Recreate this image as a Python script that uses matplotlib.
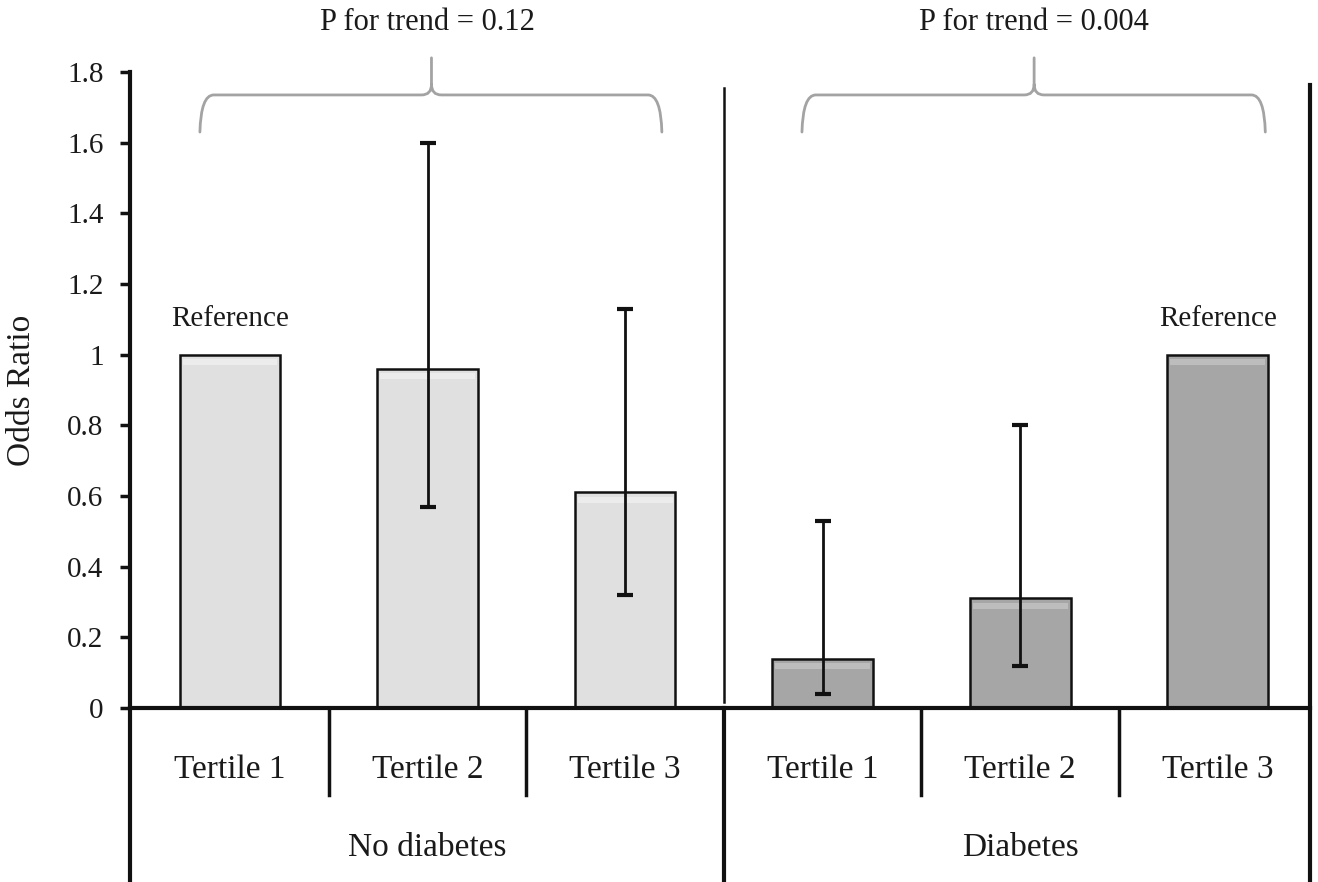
import matplotlib
matplotlib.use("Agg")
import matplotlib.pyplot as plt
import numpy as np
from matplotlib.path import Path
from matplotlib.patches import PathPatch

plt.rcParams["font.family"] = ["Liberation Serif", "DejaVu Serif"]

tertiles = ["Tertile 1", "Tertile 2", "Tertile 3", "Tertile 1", "Tertile 2", "Tertile 3"]
groups = ["No diabetes", "Diabetes"]
odds_ratio = [1.0, 0.96, 0.61, 0.14, 0.31, 1.0]
ci_low = [np.nan, 0.57, 0.32, 0.04, 0.12, np.nan]
ci_high = [np.nan, 1.60, 1.13, 0.53, 0.80, np.nan]
p_trend = ["P for trend = 0.12", "P for trend = 0.004"]
reference_idx = [0, 5]
yticks = [0, 0.2, 0.4, 0.6, 0.8, 1.0, 1.2, 1.4, 1.6, 1.8]
ytick_labels = ["0", "0.2", "0.4", "0.6", "0.8", "1", "1.2", "1.4", "1.6", "1.8"]

LIGHT = "#e0e0e0"
DARK = "#a6a6a6"
BRACE = "#a3a3a3"
TXT = "#1a1a1a"


def draw_brace(ax, x0, x1, xm, y_end, y_bar, y_tip, color):
    r = 0.07
    r2 = 0.05
    dy = 0.03
    verts = [
        (x0, y_end), (x0 + 0.005, y_bar), (x0 + r, y_bar),
        (xm - r2, y_bar), (xm, y_bar), (xm, y_bar + dy),
        (xm, y_tip),
        (xm, y_bar + dy), (xm, y_bar), (xm + r2, y_bar),
        (x1 - r, y_bar), (x1 - 0.005, y_bar), (x1, y_end),
    ]
    codes = [
        Path.MOVETO, Path.CURVE3, Path.CURVE3,
        Path.LINETO, Path.CURVE3, Path.CURVE3,
        Path.LINETO,
        Path.MOVETO, Path.CURVE3, Path.CURVE3,
        Path.LINETO, Path.CURVE3, Path.CURVE3,
    ]
    patch = PathPatch(Path(verts, codes), facecolor="none", edgecolor=color,
                      lw=2.0, clip_on=False, capstyle="round")
    ax.add_patch(patch)


fig = plt.figure(figsize=(13.18, 8.82), dpi=100)
ax = fig.add_axes([0.0986, 0.1973, 0.8953, 0.7211])

x = np.arange(len(odds_ratio))
ors = np.array(odds_ratio)
colors = [LIGHT] * 3 + [DARK] * 3
bar_w = 0.51

ax.bar(x, ors, width=bar_w, color=colors, edgecolor="#111111", linewidth=1.8, zorder=2)
# lighter band just under the top edge of each bar
highlight = ["#ececec"] * 3 + ["#bdbdbd"] * 3
ax.bar(x, np.full(len(ors), 0.018), bottom=ors - 0.03, width=bar_w - 0.03,
       color=highlight, linewidth=0, zorder=3)

lo = np.array(ci_low)
hi = np.array(ci_high)
has_ci = ~np.isnan(lo)
ax.errorbar(x[has_ci], ors[has_ci],
            yerr=[ors[has_ci] - lo[has_ci], hi[has_ci] - ors[has_ci]],
            fmt="none", ecolor="#111111", elinewidth=2.0, capsize=6, capthick=3, zorder=4)

for i in reference_idx:
    ax.text(x[i], 1.065, "Reference", ha="center", va="bottom", fontsize=21, color=TXT)

x_left, x_right = -0.506, 5.466
ax.set_xlim(x_left, x_right)
ax.set_ylim(0, 1.8)

ax.set_yticks(yticks)
ax.set_yticklabels(ytick_labels, fontsize=21, color=TXT)
ax.tick_params(axis="y", direction="out", length=7, width=2.5, pad=12, color="#111111")
ax.set_xticks([])
ax.set_ylabel("Odds Ratio", fontsize=24, color=TXT)
ax.yaxis.set_label_coords(-0.079, 0.5)

for s in ["top", "right", "left"]:
    ax.spines[s].set_visible(False)
ax.spines["bottom"].set_linewidth(3)
ax.spines["bottom"].set_color("#111111")

tr = ax.get_xaxis_transform()
fig_bottom = -0.274
# outer frame lines (left, right) running down past the axis
ax.plot([x_left, x_left], [fig_bottom, 1.0], transform=tr, color="#111111", lw=3, clip_on=False)
ax.plot([x_right, x_right], [fig_bottom, 0.98], transform=tr, color="#111111", lw=3, clip_on=False)
# group separator
ax.plot([2.5, 2.5], [fig_bottom, 0.0], transform=tr, color="#111111", lw=3, clip_on=False)
ax.plot([2.5, 2.5], [0.01, 0.975], transform=tr, color="#111111", lw=1.8, clip_on=False)
# tertile separators
for xs in [0.5, 1.5, 3.5, 4.5]:
    ax.plot([xs, xs], [-0.137, 0.0], transform=tr, color="#111111", lw=2.5, clip_on=False)

for i, lab in enumerate(tertiles):
    ax.text(x[i], -0.097, lab, transform=tr, ha="center", va="center", fontsize=24, color=TXT)
for g, lab in enumerate(groups):
    ax.text(3 * g + 1, -0.22, lab, transform=tr, ha="center", va="center", fontsize=24, color=TXT)

draw_brace(ax, -0.152, 2.186, 1.02, 1.63, 1.735, 1.84, BRACE)
draw_brace(ax, 2.895, 5.24, 4.07, 1.63, 1.735, 1.84, BRACE)
ax.text(1.0, 1.94, p_trend[0], ha="center", va="center", fontsize=22, color=TXT, clip_on=False)
ax.text(4.07, 1.94, p_trend[1], ha="center", va="center", fontsize=22, color=TXT, clip_on=False)

fig.savefig("out.png", dpi=100)
